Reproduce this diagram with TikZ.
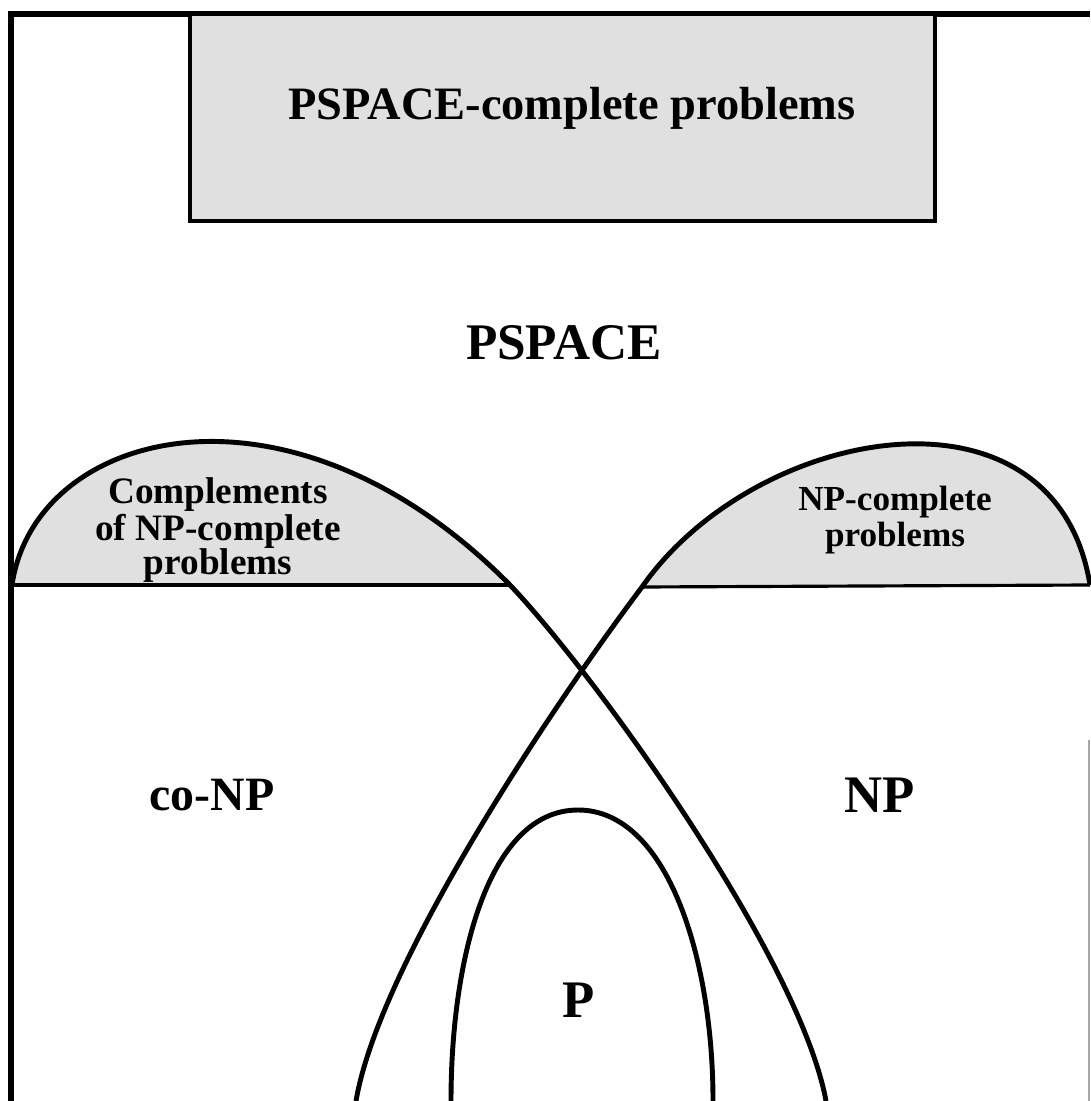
\documentclass[tikz,border=0pt]{standalone}
\usepackage{fontspec}
\setmainfont{Liberation Serif}
\begin{document}
\begin{tikzpicture}[x=0.01cm,y=-0.01cm,
  capfill/.style={fill=black!12},
  curveline/.style={line width=1.4pt,line join=round},
  baseline/.style={line width=0.9pt},
  lbl/.style={font=\bfseries,align=center,inner sep=0pt}]
\useasboundingbox (0,0) rectangle (1090,1101);
% named corner points of the curves
\coordinate (la) at (12,585);
\coordinate (lb) at (510,585);
\coordinate (lc) at (826,1101);
\coordinate (ra) at (1090,585);
\coordinate (rb) at (642,587);
\coordinate (rc) at (356,1101);
% caps fill
\begin{scope}
  \clip (0,0) rectangle (1090,586);
  \fill[capfill] (la) .. controls (35,428) and (290,362) .. (lb) -- cycle;
  \fill[capfill] (rb) .. controls (755,425) and (1055,370) .. (ra) -- cycle;
\end{scope}
% horizontal bases
\draw[baseline] (la) -- (lb);
\draw[baseline] (rb) -- (ra);
% co-NP boundary (left cap, descending right)
\draw[curveline] (la) .. controls (35,428) and (290,362) .. (lb)
  .. controls (600,680) and (800,960) .. (lc);
% NP boundary (right cap, descending left)
\draw[curveline] (ra) .. controls (1055,370) and (755,425) .. (rb)
  .. controls (562,693) and (380,960) .. (rc);
% P
\coordinate (pl) at (451,1101);
\coordinate (pt) at (578,810);
\coordinate (pr) at (713,1101);
\draw[curveline] (pl) .. controls (451,960) and (488,810) .. (pt)
  .. controls (668,810) and (713,960) .. (pr);
% outer frame
\draw[line width=1.7pt] (11,1101) -- (11,14) -- (1090,14);
\draw[line width=0.5pt,black!35] (1089,740) -- (1089,1101);
% PSPACE-complete box
\draw[line width=1.4pt,fill=black!12] (190,14) rectangle (935,221);
% labels
\node[lbl,font=\bfseries\fontsize{13.2}{15}\selectfont] (pc) at (572,108) {PSPACE-complete problems};
\node[lbl,font=\bfseries\fontsize{14.6}{18}\selectfont] (ps) at (564,343) {PSPACE};
\node[lbl,font=\bfseries\fontsize{10.6}{9.7}\selectfont] (cnpc) at (218,530) {Complements\\of NP-complete\\problems};
\node[lbl,font=\bfseries\fontsize{10}{10.3}\selectfont] (npc) at (895,520) {NP-complete\\problems};
\node[lbl,font=\bfseries\fontsize{13.6}{17}\selectfont] (conp) at (212,795) {co-NP};
\node[lbl,font=\bfseries\fontsize{15}{18}\selectfont] (np) at (880,795) {NP};
\node[lbl,font=\bfseries\fontsize{15}{18}\selectfont] (p) at (579,1000) {P};
\end{tikzpicture}
\end{document}
